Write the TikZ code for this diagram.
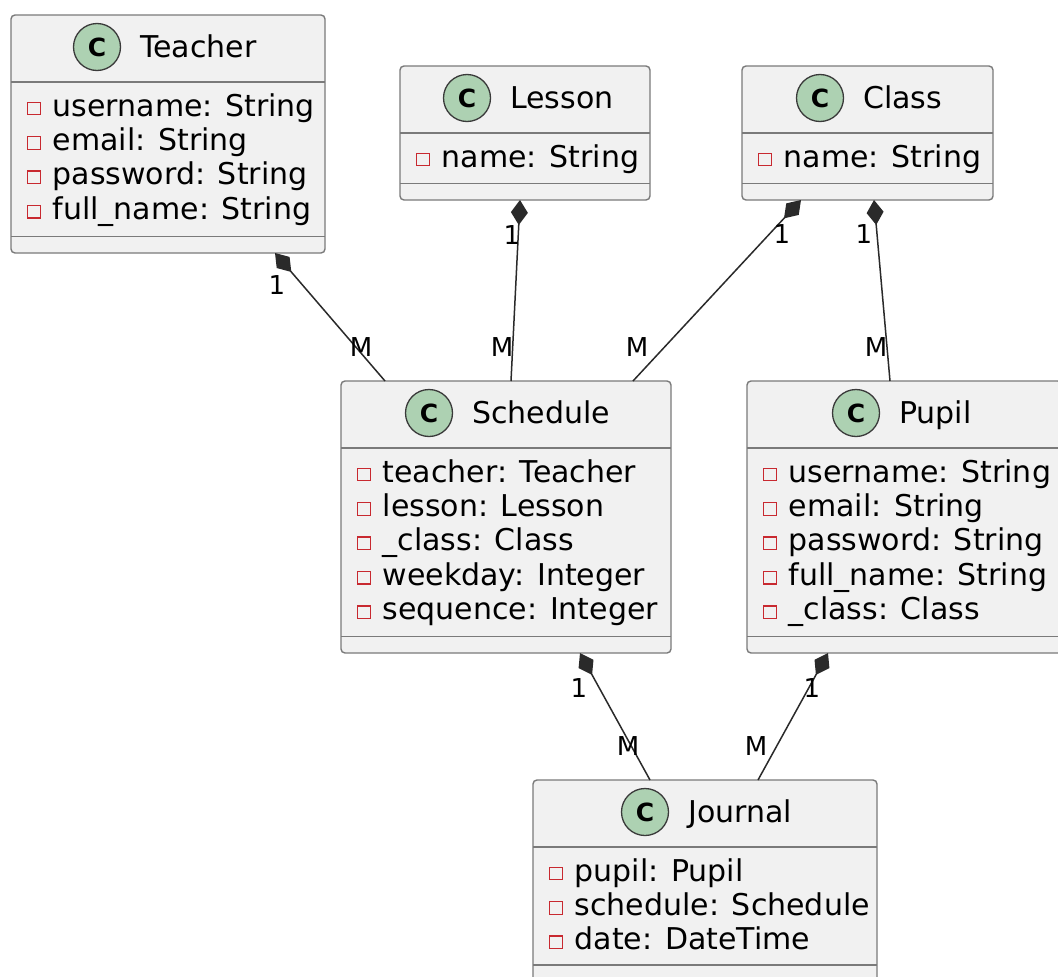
\documentclass[tikz,border=0pt]{standalone}
\usepackage{fontspec}
\setmainfont{DejaVu Sans}
\usetikzlibrary{arrows.meta,calc}

\definecolor{boxfill}{HTML}{F1F1F1}
\definecolor{boxline}{HTML}{7A7A7A}
\definecolor{iconfill}{HTML}{ADD1B2}
\definecolor{iconline}{HTML}{3A3A3A}
\definecolor{privred}{HTML}{C82930}
\definecolor{linkcol}{HTML}{2A2A2A}

\tikzset{
  classbox/.style={draw=boxline, line width=1.4pt, fill=boxfill,
    rounded corners=4pt, anchor=north west, inner sep=0pt, outer sep=0pt},
  divider/.style={draw=boxline, line width=1.4pt},
  classicon/.style={circle, draw=iconline, line width=1.3pt, fill=iconfill,
    minimum size=47pt, inner sep=0pt,
    font=\bfseries\fontsize{25}{25}\selectfont},
  classtitle/.style={anchor=base west, inner sep=0pt,
    font=\fontsize{30}{36}\selectfont},
  attrtext/.style={anchor=base west, inner sep=0pt,
    font=\fontsize{30}{36}\selectfont},
  privmark/.style={draw=privred, line width=1.3pt, fill=none,
    minimum size=12.5pt, inner sep=0pt},
  composition/.style={draw=linkcol, line width=1.5pt,
    {Diamond[length=25pt,width=17pt]}-},
  multlabel/.style={inner sep=0pt, font=\fontsize{26}{26}\selectfont},
}

% header of a class box: icon, title and the two compartment lines
\newcommand\umlhead[3]{%
  \node[classicon] (#1-icon) at ([xshift=#2pt, yshift=-32pt]#1.north west) {C};
  \node[classtitle] (#1-title) at ([xshift=43pt, yshift=-10pt]#1-icon.center) {#3};
  \draw[divider] ([yshift=-67pt]#1.north west) -- ([yshift=-67pt]#1.north east);
  \draw[divider] ([yshift=16.5pt]#1.south west) -- ([yshift=16.5pt]#1.south east);
}

% one private attribute row
\newcommand\umlattr[3]{%
  \pgfmathsetmacro\rowoff{101+34.4*(#2-1)}
  \node[attrtext] (#1-a#2) at ([xshift=41.5pt, yshift={-\rowoff*1pt}]#1.north west) {#3};
  \node[privmark] (#1-v#2) at ([xshift=23pt, yshift={-(\rowoff-7.5)*1pt}]#1.north west) {};
}

\begin{document}
\begin{tikzpicture}[x=1pt, y=-1pt]
\useasboundingbox (0,0) rectangle (1058,977);
\clip (0,0) rectangle (1058,977);
\fill[white] (0,0) rectangle (1058,977);

% class boxes
\node[classbox, minimum width=314pt, minimum height=238pt] (teacher)  at (11,15)   {};
\node[classbox, minimum width=250pt, minimum height=134pt] (lesson)   at (400,66)  {};
\node[classbox, minimum width=251pt, minimum height=134pt] (class)    at (742,66)  {};
\node[classbox, minimum width=330pt, minimum height=272pt] (schedule) at (341,381) {};
\node[classbox, minimum width=315pt, minimum height=272pt] (pupil)    at (747,381) {};
\node[classbox, minimum width=344pt, minimum height=201.5pt] (journal) at (533,780) {};

\umlhead{teacher}{86}{Teacher}
\umlattr{teacher}{1}{username: String}
\umlattr{teacher}{2}{email: String}
\umlattr{teacher}{3}{password: String}
\umlattr{teacher}{4}{full\_name: String}

\umlhead{lesson}{67}{Lesson}
\umlattr{lesson}{1}{name: String}

\umlhead{class}{78}{Class}
\umlattr{class}{1}{name: String}

\umlhead{schedule}{88}{Schedule}
\umlattr{schedule}{1}{teacher: Teacher}
\umlattr{schedule}{2}{lesson: Lesson}
\umlattr{schedule}{3}{\_class: Class}
\umlattr{schedule}{4}{weekday: Integer}
\umlattr{schedule}{5}{sequence: Integer}

\umlhead{pupil}{109}{Pupil}
\umlattr{pupil}{1}{username: String}
\umlattr{pupil}{2}{email: String}
\umlattr{pupil}{3}{password: String}
\umlattr{pupil}{4}{full\_name: String}
\umlattr{pupil}{5}{\_class: Class}

\umlhead{journal}{112}{Journal}
\umlattr{journal}{1}{pupil: Pupil}
\umlattr{journal}{2}{schedule: Schedule}
\umlattr{journal}{3}{date: DateTime}

% compositions
\draw[composition] ([xshift=264pt]teacher.south west) -- ([xshift=44pt]schedule.north west);
\draw[composition] ([xshift=120pt]lesson.south west)  -- ([xshift=170pt]schedule.north west);
\draw[composition] ([xshift=59pt]class.south west)    -- ([xshift=292pt]schedule.north west);
\draw[composition] ([xshift=132pt]class.south west)   -- ([xshift=143pt]pupil.north west);
\draw[composition] ([xshift=239pt]schedule.south west) -- ([xshift=117pt]journal.north west);
\draw[composition] ([xshift=81pt]pupil.south west)    -- ([xshift=225pt]journal.north west);

% multiplicities
\node[multlabel] (m-t1) at (277,285) {1};
\node[multlabel] (m-tM) at (361,347) {M};
\node[multlabel] (m-l1) at (512,235) {1};
\node[multlabel] (m-lM) at (502,347) {M};
\node[multlabel] (m-c1) at (782,234) {1};
\node[multlabel] (m-cM) at (637,347) {M};
\node[multlabel] (m-p1) at (864,234) {1};
\node[multlabel] (m-pM) at (876,347) {M};
\node[multlabel] (m-s1) at (579,688) {1};
\node[multlabel] (m-sM) at (628,746) {M};
\node[multlabel] (m-j1) at (812,688) {1};
\node[multlabel] (m-jM) at (756,746) {M};
\end{tikzpicture}
\end{document}
